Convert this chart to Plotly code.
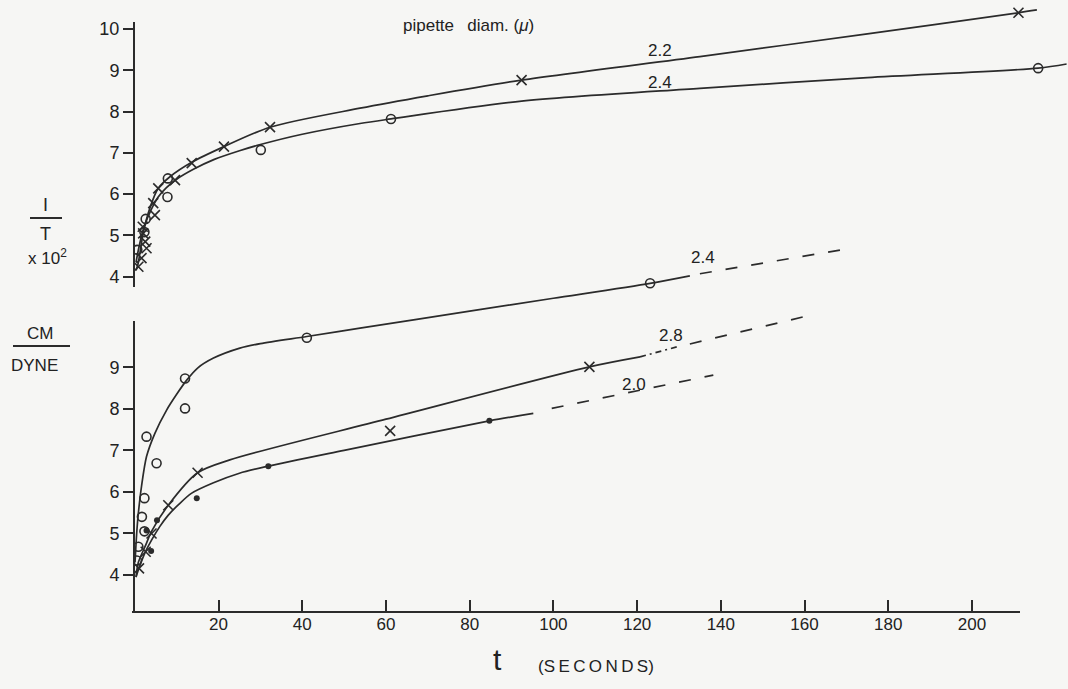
import plotly.graph_objects as go

# ---------------- data ----------------
# Upper panel: 1/T x10^2 vs t (s)
top22_curve_t = [0.3, 0.8, 2.0, 3.6, 5.6, 8.4, 13.6, 21.3, 32.3, 53.8, 70, 92.4, 135, 175, 211, 215.5]
top22_curve_v = [4.15, 4.32, 5.05, 5.66, 6.14, 6.42, 6.77, 7.15, 7.62, 8.08, 8.38, 8.76, 9.33, 9.88, 10.39, 10.46]
top22_pts_t = [0.85, 1.6, 2.0, 1.9, 2.5, 2.8, 4.4, 4.8, 5.6, 9.6, 13.6, 21.3, 32.3, 92.4, 211.1]
top22_pts_v = [4.24, 4.45, 5.05, 5.21, 4.85, 4.69, 5.78, 5.49, 6.14, 6.34, 6.75, 7.15, 7.62, 8.76, 10.39]

top24_curve_t = [0.3, 1.0, 2.2, 3.8, 5.5, 7.5, 10, 14, 19, 25, 30, 40, 53.8, 61.2, 92.4, 135, 175, 215.8, 222.6]
top24_curve_v = [4.35, 4.72, 5.2, 5.6, 5.92, 6.15, 6.36, 6.6, 6.84, 7.05, 7.2, 7.45, 7.71, 7.82, 8.25, 8.56, 8.82, 9.05, 9.15]
top24_pts_t = [0.6, 2.3, 2.6, 7.9, 7.8, 30.1, 61.2, 215.8]
top24_pts_v = [4.65, 5.08, 5.40, 6.38, 5.93, 7.07, 7.82, 9.05]

# Lower panel: CM/DYNE vs t (s)
b24_curve_t = [0.05, 0.45, 0.84, 1.6, 2.8, 4.8, 7.6, 10, 12.4, 15, 18.8, 25.1, 30, 41.1, 53.8, 80, 100, 123.1, 132.6]
b24_curve_v = [4.3, 5.0, 5.48, 6.13, 6.85, 7.41, 7.97, 8.35, 8.69, 8.98, 9.22, 9.46, 9.57, 9.74, 9.94, 10.35, 10.66, 11.02, 11.2]
b24_dash_t = [135.0, 169.7]
b24_dash_v = [11.25, 11.84]
b24_pts_t = [0.5, 0.85, 1.7, 2.3, 2.3, 2.8, 5.2, 12.0, 12.0, 41.1, 123.1]
b24_pts_v = [4.35, 4.68, 5.40, 5.85, 5.05, 7.33, 6.69, 8.01, 8.73, 9.71, 11.02]

b28_curve_t = [0.3, 0.84, 2.6, 4.0, 8.0, 15.0, 22.7, 60, 108.6, 120.7]
b28_curve_v = [3.95, 4.3, 4.72, 5.05, 5.68, 6.46, 6.77, 7.75, 9.01, 9.25]
b28_dashdot_t = [120.7, 130.2]
b28_dashdot_v = [9.25, 9.51]
b28_dash_t = [132.6, 162.1]
b28_dash_v = [9.56, 10.27]
b28_pts_t = [1.0, 2.6, 4.0, 8.0, 15.0, 61.0, 108.6]
b28_pts_v = [4.16, 4.56, 5.0, 5.68, 6.46, 7.47, 9.01]

b20_curve_t = [0.3, 0.84, 2.5, 4.0, 6, 8, 10.5, 13.6, 18.8, 25, 31.9, 50, 84.7, 95.2]
b20_curve_v = [3.95, 4.12, 4.55, 4.84, 5.17, 5.44, 5.7, 5.97, 6.22, 6.45, 6.62, 7.0, 7.71, 7.89]
b20_dash_t = [99.6, 138.2]
b20_dash_v = [8.01, 8.81]
b20_pts_t = [2.8, 3.9, 5.3, 14.8, 31.9, 84.7]
b20_pts_v = [5.07, 4.58, 5.32, 5.85, 6.62, 7.71]

x_ticks = [20, 40, 60, 80, 100, 120, 140, 160, 180, 200]
top_y_ticks = [4, 5, 6, 7, 8, 9, 10]
bot_y_ticks = [4, 5, 6, 7, 8, 9]

# ---------------- layout geometry ----------------
W, H = 1068, 689
L, R, T, B = 134, 0, 0, 77
PW, PH = W - L - R, H - T - B
PX_PER_S = 4.186
X0_PX = 134.8
x_range = [(L - X0_PX) / PX_PER_S, (W - R - X0_PX) / PX_PER_S]
# lower axis: value 4 at pixel 575, 41.55 px per unit
y_range = [4 - (H - B - 575) / 41.55, 4 + (575 - T) / 41.55]
# upper axis: value 4 at pixel 276.7, 41.3 px per unit
y2_range = [4 - (H - B - 276.7) / 41.3, 4 + (276.7 - T) / 41.3]

def pxx(x):
    return (x - L) / PW

def pxy(y):
    return (H - B - y) / PH

INK = "#2b2b2b"
FONT = "Liberation Sans"
BG = "#f6f6f4"

fig = go.Figure()

def curve(t, v, yaxis, dash="solid", width=1.7, shape="spline"):
    fig.add_trace(go.Scatter(x=t, y=v, yaxis=yaxis, mode="lines",
                             line=dict(color=INK, width=width, dash=dash, shape=shape, smoothing=0.8),
                             hoverinfo="skip", showlegend=False))

def pts(t, v, yaxis, symbol, size, lw=1.6):
    fig.add_trace(go.Scatter(x=t, y=v, yaxis=yaxis, mode="markers",
                             marker=dict(symbol=symbol, size=size, color=INK,
                                         line=dict(color=INK, width=lw)),
                             showlegend=False))

# upper panel
curve(top22_curve_t, top22_curve_v, "y2")
curve(top24_curve_t, top24_curve_v, "y2")
pts(top22_pts_t, top22_pts_v, "y2", "x-thin-open", 10)
pts(top24_pts_t, top24_pts_v, "y2", "circle-open", 9)

# lower panel
curve(b24_curve_t, b24_curve_v, "y")
curve(b24_dash_t, b24_dash_v, "y", dash="12px,14px", shape="linear")
curve(b28_curve_t, b28_curve_v, "y")
curve(b28_dashdot_t, b28_dashdot_v, "y", dash="6px,4px,2px,4px", shape="linear")
curve(b28_dash_t, b28_dash_v, "y", dash="12px,14px", shape="linear")
curve(b20_curve_t, b20_curve_v, "y")
curve(b20_dash_t, b20_dash_v, "y", dash="12px,14px", shape="linear")
pts(b24_pts_t, b24_pts_v, "y", "circle-open", 9)
pts(b28_pts_t, b28_pts_v, "y", "x-thin-open", 10)
pts(b20_pts_t, b20_pts_v, "y", "circle", 6, lw=0)

tickfont = dict(family=FONT, size=18, color="#222")

fig.update_layout(
    width=W, height=H,
    margin=dict(l=L, r=R, t=T, b=B, pad=0),
    paper_bgcolor=BG, plot_bgcolor=BG,
    showlegend=False,
    xaxis=dict(range=x_range, showgrid=False, zeroline=False, showline=False,
               tickmode="array", tickvals=x_ticks, ticks="inside", ticklen=12,
               tickwidth=1.6, tickcolor=INK, tickfont=dict(family=FONT, size=17, color="#222")),
    yaxis=dict(range=y_range, showgrid=False, zeroline=False, showline=False,
               tickmode="array", tickvals=bot_y_ticks, ticks="outside", ticklen=10,
               tickwidth=1.6, tickcolor=INK, tickfont=tickfont),
    yaxis2=dict(range=y2_range, overlaying="y", side="left", anchor="x",
                showgrid=False, zeroline=False, showline=False,
                tickmode="array", tickvals=top_y_ticks, ticks="outside", ticklen=10,
                tickwidth=1.6, tickcolor=INK, tickfont=tickfont),
)

# axis lines (drawn as shapes so they can stop where the original ones stop)
axis_line = dict(color=INK, width=2)
fig.add_shape(type="line", xref="paper", yref="paper",
              x0=pxx(132), x1=pxx(1020), y0=pxy(612), y1=pxy(612), line=axis_line)
fig.add_shape(type="line", xref="paper", yref="paper",
              x0=pxx(134), x1=pxx(134), y0=pxy(612), y1=pxy(321), line=axis_line)
fig.add_shape(type="line", xref="paper", yref="paper",
              x0=pxx(134), x1=pxx(134), y0=pxy(287), y1=pxy(22), line=axis_line)

# fraction bars of the axis titles
fig.add_shape(type="line", xref="paper", yref="paper",
              x0=pxx(30), x1=pxx(62), y0=pxy(218), y1=pxy(218), line=dict(color=INK, width=2))
fig.add_shape(type="line", xref="paper", yref="paper",
              x0=pxx(13), x1=pxx(70), y0=pxy(346), y1=pxy(346), line=dict(color=INK, width=2))

def label(text, x, y, size=17, **kw):
    fig.add_annotation(text=text, xref="paper", yref="paper", x=pxx(x), y=pxy(y),
                       showarrow=False, xanchor="center", yanchor="middle",
                       font=dict(family=FONT, size=size, color="#222"), **kw)

label("I", 45, 205, 18)
label("T", 45, 234, 18)
label("x 10<sup>2</sup>", 47, 257, 17)
label("CM", 40, 333, 17)
label("DYNE", 34, 365, 17)

label("pipette\u2002 diam. (<i>\u03bc</i>)", 468, 26, 17)
label("2.2", 660, 50, 17)
label("2.4", 660, 83, 17)
label("2.4", 703, 258, 17)
label("2.8", 671, 335, 17)
label("2.0", 634, 384, 17)

label("t", 497, 659, 30)
label("(S\u2009E\u2009C\u2009O\u2009N\u2009D\u2009S)", 596, 666, 17)

fig.write_html("out.html",
               config={"displayModeBar": False},
               post_script="document.body.style.margin='0';document.body.style.padding='0';"
                           "document.body.style.background='" + BG + "';")
